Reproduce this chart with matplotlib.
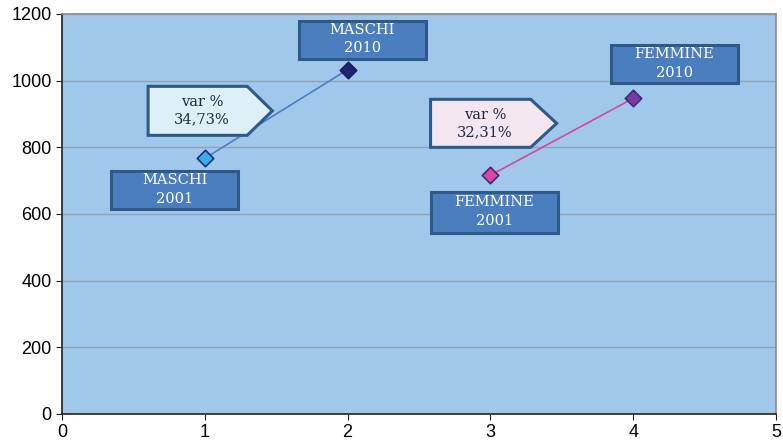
import matplotlib
matplotlib.use("Agg")
import matplotlib.pyplot as plt
from matplotlib.patches import Polygon, Rectangle

# Data
maschi_x = [1, 2]
maschi_y = [767, 1033]
femmine_x = [3, 4]
femmine_y = [716, 947]
labels_maschi = ["MASCHI\n2001", "MASCHI\n2010"]
labels_femmine = ["FEMMINE\n2001", "FEMMINE\n2010"]
var_maschi = "var %\n34,73%"
var_femmine = "var %\n32,31%"
x_ticks = [0, 1, 2, 3, 4, 5]
y_ticks = [0, 200, 400, 600, 800, 1000, 1200]

fig = plt.figure(figsize=(7.83, 4.41), dpi=100)
ax = fig.add_axes([62/783, 1 - 414/441, (776-62)/783, (414-14)/441])
ax.set_facecolor("#9fc8ea")
ax.set_xlim(0, 5)
ax.set_ylim(0, 1200)
ax.set_xticks(x_ticks)
ax.set_yticks(y_ticks)
ax.yaxis.grid(True, color="#90a4b6", linewidth=1)
ax.set_axisbelow(True)
for s in ["top", "right"]:
    ax.spines[s].set_color("#8c8c8c")
    ax.spines[s].set_linewidth(1.2)
for s in ["left", "bottom"]:
    ax.spines[s].set_color("#222222")
    ax.spines[s].set_linewidth(1.2)
ax.tick_params(direction="out", length=4, color="#222222", labelsize=13)
for lab in ax.get_xticklabels() + ax.get_yticklabels():
    lab.set_fontfamily("Liberation Sans")

# Lines and markers
ax.plot(maschi_x, maschi_y, color="#4a7ec8", lw=1.2, zorder=3)
ax.plot(femmine_x, femmine_y, color="#d8479e", lw=1.2, zorder=3)
ax.scatter(maschi_x[:1], maschi_y[:1], marker="D", s=70, color="#35b0e8", edgecolor="#1f2a80", lw=1.2, zorder=4)
ax.scatter(maschi_x[1:], maschi_y[1:], marker="D", s=70, color="#212470", edgecolor="#1a1d5c", lw=1.2, zorder=4)
ax.scatter(femmine_x[:1], femmine_y[:1], marker="D", s=70, color="#e0459f", edgecolor="#3a2a80", lw=1.2, zorder=4)
ax.scatter(femmine_x[1:], femmine_y[1:], marker="D", s=70, color="#7b3a9e", edgecolor="#3a2a80", lw=1.2, zorder=4)

serif = ["DejaVu Serif"]

def label_box(x0, x1, y0, y1, text):
    r = Rectangle((x0, y0), x1 - x0, y1 - y0, facecolor="#4a7ebe", edgecolor="#2d5a88", lw=2.2, zorder=5)
    ax.add_patch(r)
    ax.text((x0 + x1) / 2, (y0 + y1) / 2 + 3, text, ha="center", va="center", color="white",
            fontsize=10.5, family=serif, linespacing=1.45, zorder=6)

def arrow_box(x0, xb, xp, y0, y1, text, fc):
    ym = (y0 + y1) / 2
    p = Polygon([(x0, y0), (xb, y0), (xp, ym), (xb, y1), (x0, y1)], closed=True,
                facecolor=fc, edgecolor="#2d5a88", lw=2.2, zorder=5)
    ax.add_patch(p)
    ax.text((x0 + xb) / 2 + 0.03, ym, text, ha="center", va="center", color="#1f2a44",
            fontsize=10.5, family=serif, linespacing=1.3, zorder=6)

label_box(1.662, 2.546, 1065, 1179, labels_maschi[1])
label_box(0.344, 1.234, 614, 728, labels_maschi[0])
label_box(2.581, 3.471, 544, 665, labels_femmine[0])
label_box(3.843, 4.734, 992, 1107, labels_femmine[1])
arrow_box(0.603, 1.297, 1.473, 836, 983, var_maschi, "#ddeff7")
arrow_box(2.581, 3.282, 3.464, 800, 944, var_femmine, "#f3e6ee")

fig.savefig("out.png", dpi=100)
